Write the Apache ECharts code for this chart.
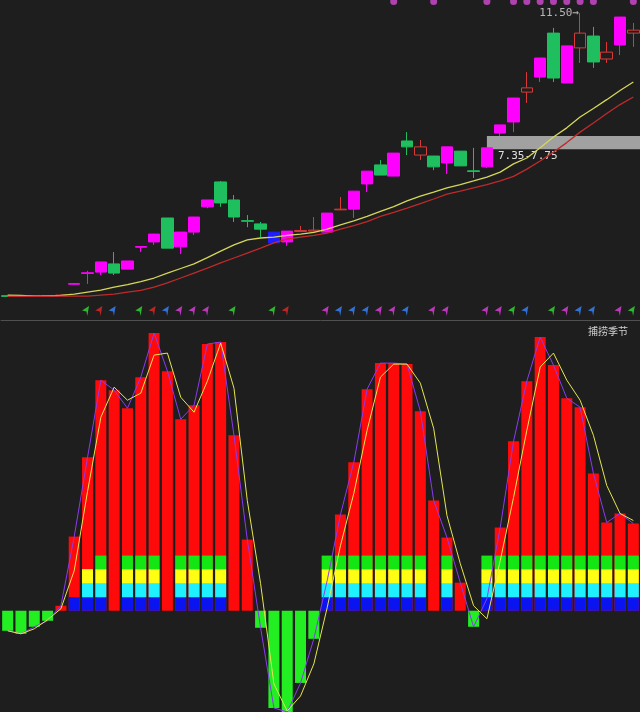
<!DOCTYPE html>
<html>
<head>
<meta charset="utf-8">
<script src="https://cdn.jsdelivr.net/npm/echarts@6/dist/echarts.min.js"></script>
<style>
  html, body { margin: 0; padding: 0; background: #1e1e1e; }
  #chart { width: 640px; height: 712px; }
</style>
</head>
<body>
<div id="chart"></div>
<script>
// 48 trading days, oldest on the left
const days = ['D1','D2','D3','D4','D5','D6','D7','D8','D9','D10','D11','D12','D13','D14','D15','D16',
  'D17','D18','D19','D20','D21','D22','D23','D24','D25','D26','D27','D28','D29','D30','D31','D32',
  'D33','D34','D35','D36','D37','D38','D39','D40','D41','D42','D43','D44','D45','D46','D47','D48'];

// K line (price)
const opens  = [2.88,2.86,2.87,2.88,2.88,3.23,3.56,3.60,3.85,3.69,4.36,4.52,5.25,4.37,4.82,5.59,
  6.35,5.80,5.17,5.07,4.49,4.52,4.84,4.85,4.82,5.50,5.52,6.29,6.87,6.53,7.60,7.17,
  7.14,6.93,7.29,6.69,6.81,7.84,8.18,9.09,9.55,10.89,9.37,10.44,10.80,10.10,10.53,10.89];
const closes = [2.86,2.87,2.88,2.86,2.90,3.25,3.58,3.91,3.57,3.94,4.38,4.76,4.33,4.82,5.28,5.80,
  5.71,5.28,5.15,4.91,4.82,4.85,4.87,4.88,5.40,5.52,6.07,6.68,6.56,7.23,7.42,7.42,
  6.81,7.42,6.84,6.67,7.39,8.09,8.91,9.22,10.13,9.52,10.50,10.89,10.01,10.31,11.38,10.98];
const lows   = [2.85,2.85,2.86,2.85,2.87,3.22,3.24,3.51,3.51,3.69,4.21,4.43,4.33,4.15,4.73,5.55,
  5.59,5.13,4.97,4.67,4.49,4.40,4.84,4.83,4.82,5.49,5.25,6.04,6.56,6.53,7.17,7.02,
  6.71,6.59,6.84,6.47,6.77,7.75,7.87,8.76,9.40,9.40,9.37,9.98,9.83,9.98,10.22,10.47];
const highs  = [2.89,2.88,2.89,2.88,2.91,3.26,3.64,3.91,4.21,3.94,4.38,4.76,5.25,4.82,5.28,5.80,
  6.38,5.95,5.34,5.13,4.82,4.85,5.01,5.28,5.40,5.89,6.07,6.68,7.02,7.23,7.87,7.63,
  7.14,7.42,7.29,7.39,7.39,8.09,8.91,9.70,10.13,11.05,10.50,11.50,11.08,10.62,11.38,11.20];
// u = solid up, d = down, h = hollow up, b = blue highlighted
const kinds  = ['d','h','h','d','h','u','u','u','d','u','u','u','d','u','u','u',
  'd','d','d','d','b','u','h','h','u','h','u','u','d','u','d','h',
  'd','u','d','d','u','u','u','h','u','d','u','h','d','h','u','h'];

// moving averages
const maFast = [2.90,2.89,2.87,2.87,2.89,2.93,2.99,3.05,3.14,3.22,3.31,3.42,3.57,3.71,3.85,4.04,
  4.24,4.43,4.58,4.64,4.67,4.72,4.76,4.81,4.91,5.04,5.16,5.30,5.45,5.60,5.77,5.92,
  6.04,6.17,6.27,6.38,6.50,6.65,6.90,7.08,7.39,7.72,8.00,8.33,8.59,8.86,9.14,9.40];
const maSlow = [2.86,2.86,2.86,2.86,2.87,2.87,2.87,2.90,2.93,2.99,3.04,3.14,3.27,3.42,3.57,3.72,
  3.88,4.03,4.18,4.33,4.49,4.61,4.67,4.72,4.79,4.91,5.02,5.14,5.30,5.42,5.55,5.69,
  5.83,5.98,6.07,6.17,6.27,6.38,6.52,6.74,6.99,7.26,7.55,7.87,8.15,8.44,8.71,8.94];

// signal dots along the top edge
const topDots = [0,0,0,0,0,0,0,0,0,0,0,0,0,0,0,0,
  0,0,0,0,0,0,0,0,0,0,0,0,0,1,0,0,
  1,0,0,0,1,0,1,1,1,1,1,1,1,0,0,1];
// flag row under the candles: G green, R red, B blue, M magenta
const flags = ['','','','','','','G','R','B','','G','R','B','M','M','M',
  '','G','','','G','R','','','M','B','B','B','M','M','B','',
  'M','M','','','M','M','G','B','','G','M','B','B','','M','G'];

// price zone
const zone = [7.35, 7.75];
const zoneFrom = 36;

// 捕捞季节 indicator
const hist   = [-20,-23,-16,-10,5,74,153,230,220,202,233,277,239,191,205,266,
  268,175,71,-17,-97,-101,-72,-28,30,96,148,221,247,247,246,199,
  110,73,28,-16,12,83,169,229,273,245,212,203,137,88,97,87];
const signal = [-20,-23,-18,-9,2,40,119,193,223,210,217,255,257,213,198,229,
  267,222,110,27,-73,-100,-85,-53,3,65,117,180,233,246,246,227,
  182,95,47,5,-8,50,113,180,243,257,230,210,175,125,97,90];
// how many colour blocks stand on each bar (0..4)
const season = [0,0,0,0,0,1,3,4,0,4,4,4,0,4,4,4,
  4,0,0,0,0,0,0,0,4,4,4,4,4,4,4,4,
  0,4,0,0,4,4,4,4,4,4,4,4,4,4,4,4];
const seasonBands = [13.5, 13.5, 14.5, 13.5];

const chart = echarts.init(document.getElementById('chart'));

const kindColor = { u: '#ff00ff', d: '#1fbf5f', h: '#d83a3a', b: '#1e1eff' };
const flagColor = { G: '#33dd33', R: '#e02828', B: '#3a86ff', M: '#e040e0' };
const blockColor = ['#0a14f0', '#1ef0ff', '#ffff14', '#14e614'];
const mono = '"DejaVu Sans Mono", "Liberation Mono", monospace';

const candles = opens.map((o, i) => {
  const c = kindColor[kinds[i]];
  const fill = kinds[i] === 'h' ? 'transparent' : c;
  return {
    value: [o, closes[i], lows[i], highs[i]],
    itemStyle: { color: fill, color0: fill, borderColor: c, borderColor0: c, borderWidth: 1 }
  };
});

let hiIdx = 0;
highs.forEach((h, i) => { if (h > highs[hiIdx]) hiIdx = i; });

const gridBox = { left: 1, right: -4 };
const grids = [
  { ...gridBox, top: 0, height: 318 },
  { ...gridBox, top: -3, height: 6 },
  { ...gridBox, top: 302, height: 18 },
  { ...gridBox, top: 322, height: 390 }
];

const xAxes = grids.map((g, k) => ({
  type: 'category',
  gridIndex: k,
  data: days,
  boundaryGap: true,
  axisLabel: { show: false },
  axisTick: { show: false },
  splitLine: { show: false },
  axisLine: { show: k === 2, lineStyle: { color: '#505050', width: 1 } }
}));

const yAxes = [
  { gridIndex: 0, min: 2.2, max: 11.9, show: false, splitLine: { show: false } },
  { gridIndex: 1, min: 0, max: 1, show: false },
  { gridIndex: 2, min: 0, max: 1, show: false },
  { gridIndex: 3, min: -101, max: 288, show: false, splitLine: { show: false } }
];

const blockSeries = seasonBands.map((h, k) => ({
  type: 'bar',
  xAxisIndex: 3,
  yAxisIndex: 3,
  stack: 'season',
  barWidth: 11,
  barGap: '-100%',
  z: 3,
  itemStyle: { color: blockColor[k] },
  data: season.map(l => (l >= k + 1 ? h : '-'))
}));

chart.setOption({
  backgroundColor: '#1e1e1e',
  animation: false,
  title: {
    text: '捕捞季节',
    right: 7,
    top: 321,
    textStyle: { color: '#cfcfcf', fontSize: 10, fontWeight: 'normal', fontFamily: '"Noto Sans CJK SC", sans-serif' }
  },
  grid: grids,
  xAxis: xAxes,
  yAxis: yAxes,
  series: [
    {
      type: 'candlestick',
      xAxisIndex: 0,
      yAxisIndex: 0,
      barWidth: 12,
      z: 2,
      data: candles,
      markArea: {
        silent: true,
        itemStyle: { color: 'rgba(185,185,185,0.85)' },
        label: {
          show: true,
          position: [11, 15],
          color: '#e0e0e0',
          fontSize: 11,
          fontFamily: mono,
          formatter: zone[0].toFixed(2) + '-' + zone[1].toFixed(2)
        },
        data: [[{ xAxis: zoneFrom, yAxis: zone[1] }, { yAxis: zone[0] }]]
      }
    },
    {
      type: 'line',
      xAxisIndex: 0,
      yAxisIndex: 0,
      data: maFast,
      symbol: 'none',
      z: 4,
      lineStyle: { color: '#d6d65a', width: 1.3 }
    },
    {
      type: 'line',
      xAxisIndex: 0,
      yAxisIndex: 0,
      data: maSlow,
      symbol: 'none',
      z: 4,
      lineStyle: { color: '#c02a2a', width: 1.3 }
    },
    {
      // label at the highest high
      type: 'scatter',
      xAxisIndex: 0,
      yAxisIndex: 0,
      symbolSize: 0,
      z: 5,
      data: [[hiIdx, highs[hiIdx]]],
      label: {
        show: true,
        position: 'left',
        distance: 1,
        color: '#dcdcdc',
        fontSize: 11,
        fontFamily: mono,
        formatter: highs[hiIdx].toFixed(2) + '\u2192'
      }
    },
    {
      type: 'scatter',
      xAxisIndex: 1,
      yAxisIndex: 1,
      symbolSize: 7,
      itemStyle: { color: '#d24bd2' },
      data: topDots.map((v, i) => (v ? [i, 0.5] : null)).filter(Boolean)
    },
    {
      type: 'scatter',
      xAxisIndex: 2,
      yAxisIndex: 2,
      symbol: 'path://M8,0 L0,6 L5,7 L6,13 Z',
      symbolSize: [7, 10],
      symbolOffset: [-2, 0],
      data: flags.map((f, i) => (f ? { value: [i, 0.5], itemStyle: { color: flagColor[f] } } : null)).filter(Boolean)
    },
    {
      type: 'bar',
      xAxisIndex: 3,
      yAxisIndex: 3,
      barWidth: 11,
      barGap: '-100%',
      z: 2,
      data: hist,
      itemStyle: { color: p => (p.value >= 0 ? '#ff0a0a' : '#22ee22') }
    },
    ...blockSeries,
    {
      type: 'line',
      xAxisIndex: 3,
      yAxisIndex: 3,
      data: hist,
      symbol: 'none',
      z: 5,
      lineStyle: { color: '#8a3cf0', width: 1 }
    },
    {
      type: 'line',
      xAxisIndex: 3,
      yAxisIndex: 3,
      data: signal,
      symbol: 'none',
      z: 5,
      lineStyle: { color: '#e6e650', width: 1 }
    }
  ]
});
</script>
</body>
</html>
